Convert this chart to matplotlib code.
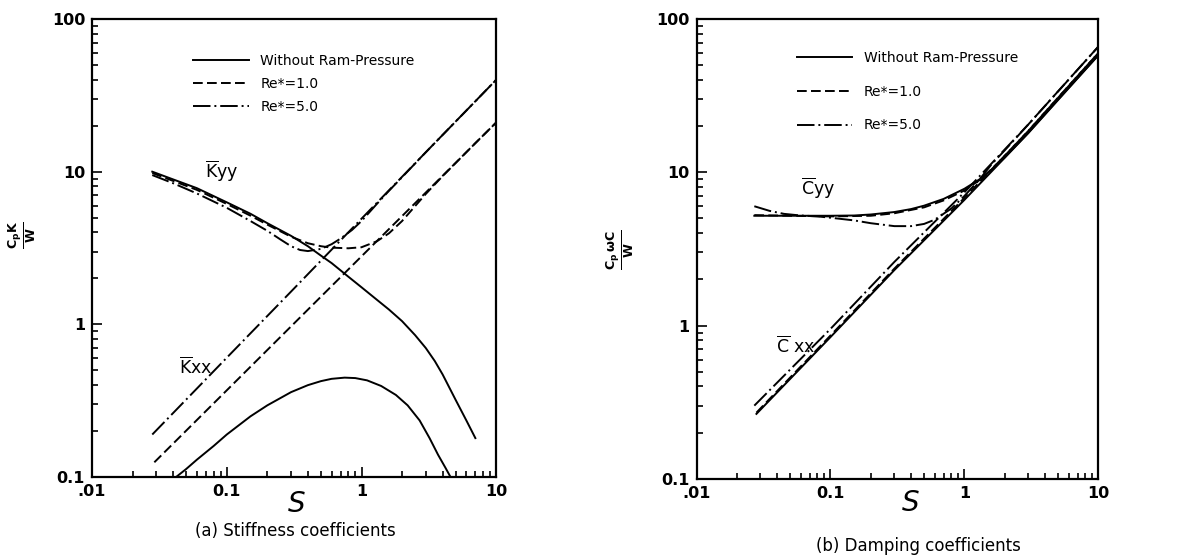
import numpy as np
import matplotlib.pyplot as plt
from matplotlib.ticker import FixedLocator, FixedFormatter, LogLocator, NullFormatter

# ================== DATI: (a) rigidezza ==================
S_kyy_none = [0.028, 0.04, 0.06, 0.1, 0.15, 0.2, 0.3, 0.4, 0.5, 0.6, 0.8, 1.0, 1.3, 1.6,
              2.0, 2.5, 3.0, 3.5, 4.0, 5.0, 6.0, 7.0]
Kyy_none = [10.0, 8.9, 7.8, 6.3, 5.3, 4.6, 3.8, 3.25, 2.82, 2.52, 2.05, 1.75, 1.45, 1.25,
            1.05, 0.85, 0.70, 0.575, 0.47, 0.32, 0.235, 0.18]

S_kyy_re1 = [0.028, 0.04, 0.06, 0.1, 0.15, 0.2, 0.3, 0.4, 0.5, 0.6, 0.8, 1.0, 1.3, 1.6,
             2.0, 2.5, 3.0, 4.0, 5.0, 7.0, 10.0]
Kyy_re1 = [9.8, 8.7, 7.6, 6.15, 5.15, 4.5, 3.75, 3.4, 3.25, 3.18, 3.15, 3.2, 3.5, 3.95,
           4.75, 5.95, 7.15, 9.35, 11.4, 15.4, 21.0]

S_kyy_re5 = [0.028, 0.04, 0.06, 0.1, 0.15, 0.2, 0.25, 0.3, 0.35, 0.4, 0.5, 0.6, 0.7, 0.85,
             1.0, 1.3, 1.6, 2.0, 3.0, 5.0, 7.0, 10.0]
Kyy_re5 = [9.5, 8.4, 7.2, 5.8, 4.75, 4.1, 3.6, 3.25, 3.07, 3.02, 3.12, 3.35, 3.65, 4.15,
           4.75, 6.15, 7.5, 9.2, 13.4, 21.3, 28.9, 40.0]

S_kxx_none = [0.042, 0.05, 0.06, 0.08, 0.1, 0.15, 0.2, 0.3, 0.4, 0.5, 0.6, 0.75, 0.9, 1.1,
              1.4, 1.8, 2.2, 2.7, 3.2, 3.7, 4.2, 4.7]
Kxx_none = [0.1, 0.113, 0.13, 0.16, 0.19, 0.25, 0.295, 0.36, 0.40, 0.425, 0.44, 0.448, 0.445, 0.43,
            0.395, 0.345, 0.295, 0.235, 0.18, 0.14, 0.115, 0.096]

S_kxx_re1 = [0.029, 0.1, 0.3, 1.0, 3.0, 10.0]
Kxx_re1 = [0.125, 0.37, 0.97, 2.79, 7.3, 21.0]

S_kxx_re5 = [0.028, 0.1, 0.3, 1.0, 3.0, 10.0]
Kxx_re5 = [0.19, 0.605, 1.64, 4.92, 13.4, 40.0]

# ================== DATI: (b) smorzamento ==================
S_cyy_none = [0.027, 0.05, 0.1, 0.15, 0.2, 0.3, 0.4, 0.5, 0.7, 1.0, 1.3, 1.6, 2.0, 3.0, 5.0, 10.0]
Cyy_none = [5.2, 5.2, 5.2, 5.22, 5.3, 5.5, 5.75, 6.05, 6.7, 7.8, 9.0, 10.4, 12.5, 18.1, 29.8, 58.0]

S_cyy_re1 = [0.027, 0.05, 0.1, 0.2, 0.3, 0.5, 0.7, 1.0, 1.3, 1.6, 2.0, 3.0, 5.0, 10.0]
Cyy_re1 = [5.25, 5.2, 5.15, 5.2, 5.4, 5.9, 6.55, 7.6, 8.9, 10.5, 12.8, 18.6, 30.7, 60.0]

S_cyy_re5 = [0.027, 0.035, 0.045, 0.06, 0.08, 0.1, 0.15, 0.2, 0.3, 0.4, 0.5, 0.6, 0.8, 1.0,
             1.3, 1.6, 2.0, 3.0, 5.0, 10.0]
Cyy_re5 = [6.0, 5.6, 5.35, 5.22, 5.15, 5.05, 4.85, 4.65, 4.45, 4.45, 4.6, 4.9, 5.8, 7.0,
           9.0, 11.3, 13.9, 20.5, 33.7, 66.0]

S_cxx_none = [0.028, 0.1, 0.3, 1.0, 3.0, 10.0]
Cxx_none = [0.265, 0.84, 2.3, 6.6, 18.0, 58.0]

S_cxx_re1 = [0.028, 0.1, 0.3, 1.0, 3.0, 10.0]
Cxx_re1 = [0.27, 0.86, 2.35, 6.8, 18.6, 60.0]

S_cxx_re5 = [0.027, 0.1, 0.3, 1.0, 3.0, 10.0]
Cxx_re5 = [0.30, 0.95, 2.6, 7.4, 20.5, 66.0]

x_ticks = [0.01, 0.1, 1, 10]
x_labels = ['.01', '0.1', '1', '10']
y_ticks = [0.1, 1, 10, 100]
y_labels = ['0.1', '1', '10', '100']

legend_labels = ['Without Ram-Pressure', 'Re*=1.0', 'Re*=5.0']

# ================== STILE ==================
solid = '-'
dashed = (0, (5, 2.2))
dashdot = (0, (9, 2, 1, 2))
lw = 1.4

plt.rcParams['font.family'] = ['DejaVu Sans']

fig = plt.figure(figsize=(12.03, 5.58), dpi=100)
axA = fig.add_axes([0.0765, 0.145, 0.336, 0.821])
axB = fig.add_axes([0.579, 0.142, 0.334, 0.824])


def setup(ax):
    ax.set_xscale('log')
    ax.set_yscale('log')
    ax.set_xlim(0.01, 10)
    ax.set_ylim(0.1, 100)
    ax.xaxis.set_major_locator(FixedLocator(x_ticks))
    ax.xaxis.set_major_formatter(FixedFormatter(x_labels))
    ax.yaxis.set_major_locator(FixedLocator(y_ticks))
    ax.yaxis.set_major_formatter(FixedFormatter(y_labels))
    ax.xaxis.set_minor_locator(LogLocator(base=10, subs=np.arange(2, 10)))
    ax.yaxis.set_minor_locator(LogLocator(base=10, subs=np.arange(2, 10)))
    ax.xaxis.set_minor_formatter(NullFormatter())
    ax.yaxis.set_minor_formatter(NullFormatter())
    ax.tick_params(which='both', direction='in', top=False, right=False,
                   width=1.2, labelsize=11.5)
    ax.tick_params(which='major', length=7, pad=5)
    ax.tick_params(which='minor', length=4)
    for lbl in ax.get_xticklabels() + ax.get_yticklabels():
        lbl.set_fontweight('bold')
    for sp in ax.spines.values():
        sp.set_linewidth(1.6)


# ---------- (a) ----------
setup(axA)
axA.plot(S_kyy_none, Kyy_none, color='black', lw=lw, ls=solid, label=legend_labels[0])
axA.plot(S_kyy_re1, Kyy_re1, color='black', lw=lw, ls=dashed, label=legend_labels[1])
axA.plot(S_kyy_re5, Kyy_re5, color='black', lw=lw, ls=dashdot, label=legend_labels[2])
axA.plot(S_kxx_none, Kxx_none, color='black', lw=lw, ls=solid)
axA.plot(S_kxx_re1, Kxx_re1, color='black', lw=lw, ls=dashed)
axA.plot(S_kxx_re5, Kxx_re5, color='black', lw=lw, ls=dashdot)

axA.legend(loc='upper left', bbox_to_anchor=(0.236, 0.935), frameon=False,
           fontsize=10, handlelength=4.0, handletextpad=0.85, labelspacing=0.65,
           borderaxespad=0)
axA.text(0.069, 10.1, r'$\overline{\mathrm{K}}$yy', fontsize=12.5, va='center')
axA.text(0.044, 0.52, r'$\overline{\mathrm{K}}$xx', fontsize=12.5, va='center')
fig.text(297 / 1203, 1 - 504 / 558, 'S', fontsize=20, fontstyle='italic',
         ha='center', va='center')
fig.text(22 / 1203, 1 - 235 / 558, r'$\frac{\mathbf{C_pK}}{\mathbf{W}}$', fontsize=13,
         rotation=90, ha='center', va='center')
fig.text(295 / 1203, 1 - 531 / 558, '(a) Stiffness coefficients', ha='center',
         va='center', fontsize=12)

# ---------- (b) ----------
setup(axB)
axB.plot(S_cyy_none, Cyy_none, color='black', lw=lw, ls=solid, label=legend_labels[0])
axB.plot(S_cyy_re1, Cyy_re1, color='black', lw=lw, ls=dashed, label=legend_labels[1])
axB.plot(S_cyy_re5, Cyy_re5, color='black', lw=lw, ls=dashdot, label=legend_labels[2])
axB.plot(S_cxx_none, Cxx_none, color='black', lw=lw, ls=solid)
axB.plot(S_cxx_re1, Cxx_re1, color='black', lw=lw, ls=dashed)
axB.plot(S_cxx_re5, Cxx_re5, color='black', lw=lw, ls=dashdot)

axB.legend(loc='upper left', bbox_to_anchor=(0.235, 0.942), frameon=False,
           fontsize=10, handlelength=4.0, handletextpad=0.85, labelspacing=1.41,
           borderaxespad=0)
axB.text(0.06, 7.9, r'$\overline{\mathrm{C}}$yy', fontsize=12.5, va='center')
axB.text(0.039, 0.73, r'$\overline{\mathrm{C}}$ xx', fontsize=12.5, va='center')
fig.text(911 / 1203, 1 - 503 / 558, 'S', fontsize=20, fontstyle='italic',
         ha='center', va='center')
fig.text(620 / 1203, 1 - 250 / 558, r'$\frac{\mathbf{C_p\,\omega C}}{\mathbf{W}}$',
         fontsize=13, rotation=90, ha='center', va='center')
fig.text(918 / 1203, 1 - 546 / 558, '(b) Damping coefficients', ha='center',
         va='center', fontsize=12)

fig.savefig('out.png', dpi=100)
